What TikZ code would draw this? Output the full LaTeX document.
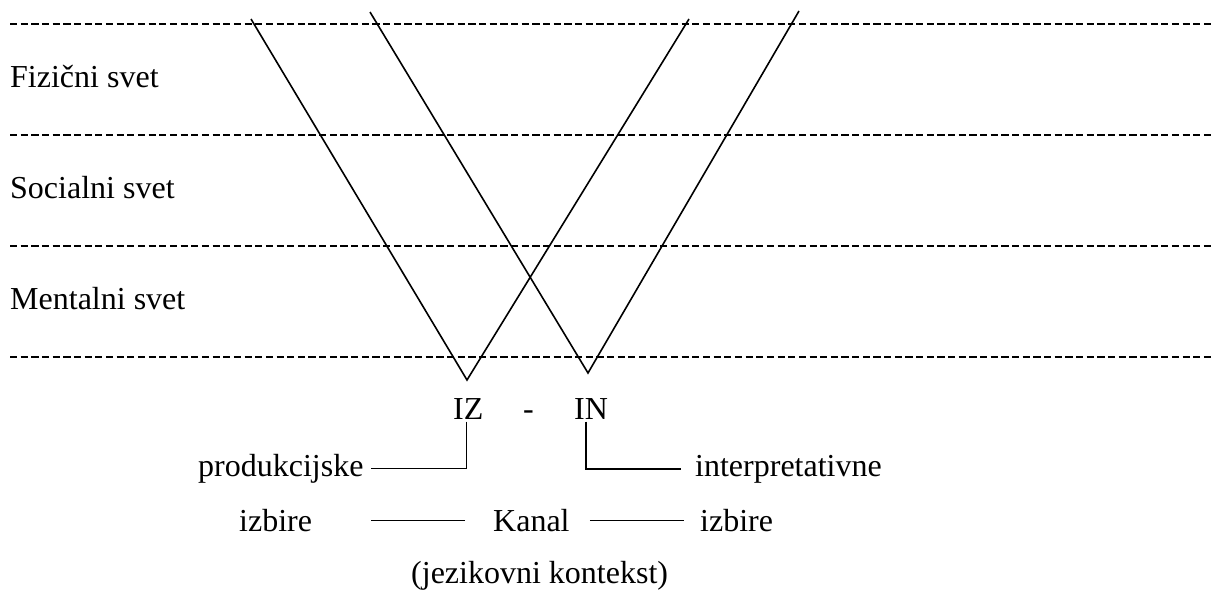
\documentclass[tikz,border=0pt]{standalone}
\usepackage{fontspec}
\setmainfont{Liberation Serif}
\begin{document}
\begin{tikzpicture}[x=1pt,y=-1pt,
  lbl/.style={inner sep=0pt, anchor=base west, font=\fontsize{32}{38}\selectfont},
  hy/.style={line width=2.2pt, dash pattern=on 7.2pt off 3.46pt},
  ln/.style={line width=1.6pt}]
\useasboundingbox (0,0) rectangle (1211,592);
% dashed separator rows
\foreach \y/\n in {24/da,135/db,246/dc,357/dd} {
  \coordinate (\n l) at (10,\y);
  \coordinate (\n r) at (1211,\y);
  \draw[hy] (\n l) -- (\n r);
}
% world labels
\node[lbl] (fiz) at (10,87.5) {Fizični svet};
\node[lbl] (soc) at (10,198.5) {Socialni svet};
\node[lbl] (men) at (10,309.5) {Mentalni svet};
% V lines
\coordinate (v1a) at (251,19);
\coordinate (v1b) at (467,380);
\coordinate (v1c) at (689,19);
\coordinate (v2a) at (370,12);
\coordinate (v2b) at (588,373);
\coordinate (v2c) at (799,11);
\draw[ln] (v1a) -- (v1b) -- (v1c);
\draw[ln] (v2a) -- (v2b) -- (v2c);
% bottom texts
\node[lbl] (iz) at (453,419.5) {IZ};
\node[lbl] (dsh) at (523,419.5) {-};
\node[lbl] (in) at (574,419.5) {IN};
\node[lbl] (prod) at (198,476) {produkcijske};
\node[lbl] (interp) at (695,476) {interpretativne};
\node[lbl] (izl) at (239,531.5) {izbire};
\node[lbl] (kanal) at (493,531.5) {Kanal};
\node[lbl] (izr) at (700,531.5) {izbire};
\node[lbl] (jez) at (411,583) {(jezikovni kontekst)};
% connectors
\draw[ln] ([xshift=-2pt,yshift=-2pt]iz.south) |- ([xshift=7pt]prod.east);
\draw[ln] ([xshift=-5pt,yshift=-2pt]in.south) |- ([xshift=-14pt]interp.west);
\draw[ln] ([xshift=-28pt]kanal.west) -- ([xshift=-122pt]kanal.west);
\draw[ln] ([xshift=20pt]kanal.east) -- ([xshift=114pt]kanal.east);
\end{tikzpicture}
\end{document}
